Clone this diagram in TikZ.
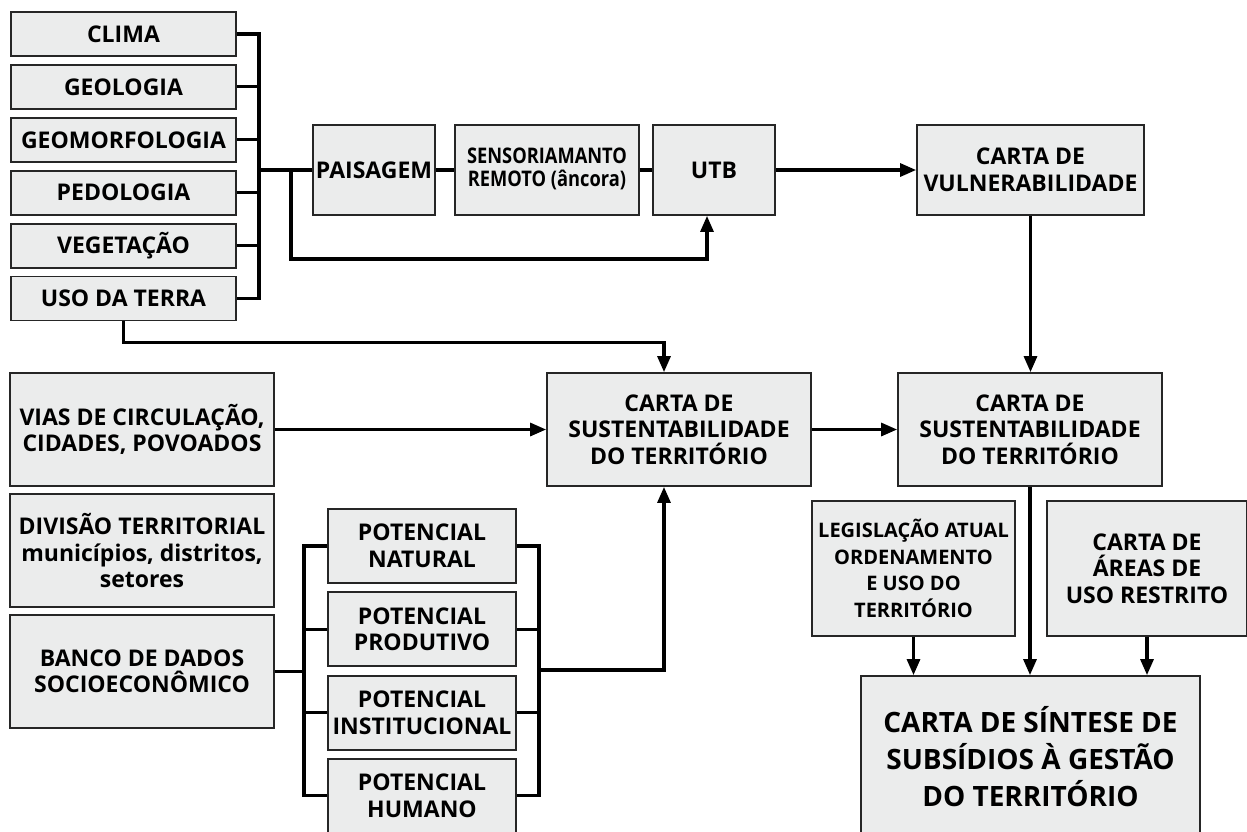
\documentclass[tikz,border=0pt]{standalone}
\usepackage{fontspec}
\setmainfont{Open Sans}
\usetikzlibrary{arrows.meta}
\definecolor{cinza}{HTML}{EBECEC}
\tikzset{
  caixa/.style={draw=black!85, fill=cinza, line width=1.8pt, inner sep=0pt, align=center,
    font=\bfseries\fontsize{23}{26.5}\selectfont},
  linha/.style={line width=3.1pt},
  seta/.style={line width=3.1pt, -{Triangle[length=16pt,width=13pt]}},
}
\begin{document}
\begin{tikzpicture}[x=1pt,y=-1pt]
\useasboundingbox (0,0) rectangle (1247,831);
% coluna de temas
\node[caixa, minimum width=225pt, minimum height=44pt] (clima) at (123.5,34) {CLIMA};
\node[caixa, minimum width=225pt, minimum height=44pt] (geologia) at (123.5,86.9) {GEOLOGIA};
\node[caixa, minimum width=225pt, minimum height=44pt] (geomorf) at (123.5,139.8) {GEOMORFOLOGIA};
\node[caixa, minimum width=225pt, minimum height=44pt] (pedologia) at (123.5,192.7) {PEDOLOGIA};
\node[caixa, minimum width=225pt, minimum height=44pt] (vegetacao) at (123.5,245.6) {VEGETAÇÃO};
\node[caixa, minimum width=225pt, minimum height=44pt] (uso) at (123.5,298.5) {USO DA TERRA};
% linha de cima
\node[caixa, minimum width=122pt, minimum height=90pt] (paisagem) at (374,170) {PAISAGEM};
\node[caixa, minimum width=184pt, minimum height=90pt, font=\bfseries\fontsize{21.5}{19.5}\selectfont] (sensor) at (547,170)
  {\scalebox{0.85}[1]{\begin{tabular}{@{}c@{}}SENSORIAMANTO\\REMOTO (âncora)\end{tabular}}};
\node[caixa, minimum width=122pt, minimum height=90pt] (utb) at (714,170) {UTB};
\node[caixa, minimum width=227pt, minimum height=90pt] (vulner) at (1030.5,170) {CARTA DE\\VULNERABILIDADE};
% meio
\node[caixa, minimum width=264pt, minimum height=113pt] (vias) at (142,429.5) {VIAS DE CIRCULAÇÃO,\\CIDADES, POVOADOS};
\node[caixa, minimum width=264pt, minimum height=113pt] (cartaA) at (679,429.5) {CARTA DE\\SUSTENTABILIDADE\\DO TERRITÓRIO};
\node[caixa, minimum width=264pt, minimum height=113pt] (cartaB) at (1030,429.5) {CARTA DE\\SUSTENTABILIDADE\\DO TERRITÓRIO};
\node[caixa, minimum width=264pt, minimum height=113pt] (divisao) at (142,550.5) {DIVISÃO TERRITORIAL\\municípios, distritos,\\setores};
\node[caixa, minimum width=264pt, minimum height=113pt] (banco) at (142,671.5) {BANCO DE DADOS\\SOCIOECONÔMICO};
% potenciais
\node[caixa, minimum width=188pt, minimum height=74pt] (natural) at (422,546) {POTENCIAL\\NATURAL};
\node[caixa, minimum width=188pt, minimum height=74pt] (produtivo) at (422,629.3) {POTENCIAL\\PRODUTIVO};
\node[caixa, minimum width=188pt, minimum height=74pt] (institucional) at (422,712.6) {POTENCIAL\\INSTITUCIONAL};
\node[caixa, minimum width=188pt, minimum height=74pt] (humano) at (422,795.9) {POTENCIAL\\HUMANO};
% embaixo a direita
\node[caixa, minimum width=203pt, minimum height=135pt, font=\bfseries\fontsize{20}{26.7}\selectfont] (legis) at (913.5,568.5) {LEGISLAÇÃO ATUAL\\ORDENAMENTO\\E USO DO\\TERRITÓRIO};
\node[caixa, minimum width=200pt, minimum height=135pt] (areas) at (1147,568.5) {CARTA DE\\ÁREAS DE\\USO RESTRITO};
\node[caixa, minimum width=339pt, minimum height=161pt, font=\bfseries\fontsize{28}{37}\selectfont] (sintese) at (1030.5,756.5) {CARTA DE SÍNTESE DE\\SUBSÍDIOS À GESTÃO\\DO TERRITÓRIO};
% ligacoes
\coordinate (juncao) at (259,170);
\coordinate (ramo) at (291,170);
\coordinate (chave) at (304,671.5);
\coordinate (chaveB) at (539,670);
\draw[linha] (clima.east) -| (juncao) |- (uso.east);
\draw[linha] (geologia.east) -- (geologia.east -| juncao);
\draw[linha] (geomorf.east) -- (geomorf.east -| juncao);
\draw[linha] (pedologia.east) -- (pedologia.east -| juncao);
\draw[linha] (vegetacao.east) -- (vegetacao.east -| juncao);
\draw[linha] (juncao) -- (paisagem.west);
\draw[linha] (paisagem) -- (sensor);
\draw[linha] (sensor) -- (utb);
\draw[seta] (utb) -- (vulner);
\draw[seta] (ramo) -- ++(0,89) -| ([xshift=-7pt]utb.south);
\draw[seta] (vulner.south) -- (vulner.south |- cartaB.north);
\draw[seta] (uso.south) -- ++(0,21.5) -| ([xshift=-15pt]cartaA.north);
\draw[seta] (vias) -- (cartaA);
\draw[seta] (cartaA) -- (cartaB);
\draw[linha] (natural.west) -| (chave) |- (humano.west);
\draw[linha] (produtivo.west) -- (produtivo.west -| chave);
\draw[linha] (institucional.west) -- (institucional.west -| chave);
\draw[linha] (banco) -- (chave);
\draw[linha] (natural.east) -| (chaveB) |- (humano.east);
\draw[linha] (produtivo.east) -- (produtivo.east -| chaveB);
\draw[linha] (institucional.east) -- (institucional.east -| chaveB);
\draw[seta] (chaveB) -| ([xshift=-15pt]cartaA.south);
\draw[seta] (cartaB.south) -- (cartaB.south |- sintese.north);
\draw[seta] (legis.south) -- (legis.south |- sintese.north);
\draw[seta] (areas.south) -- (areas.south |- sintese.north);
\end{tikzpicture}
\end{document}
